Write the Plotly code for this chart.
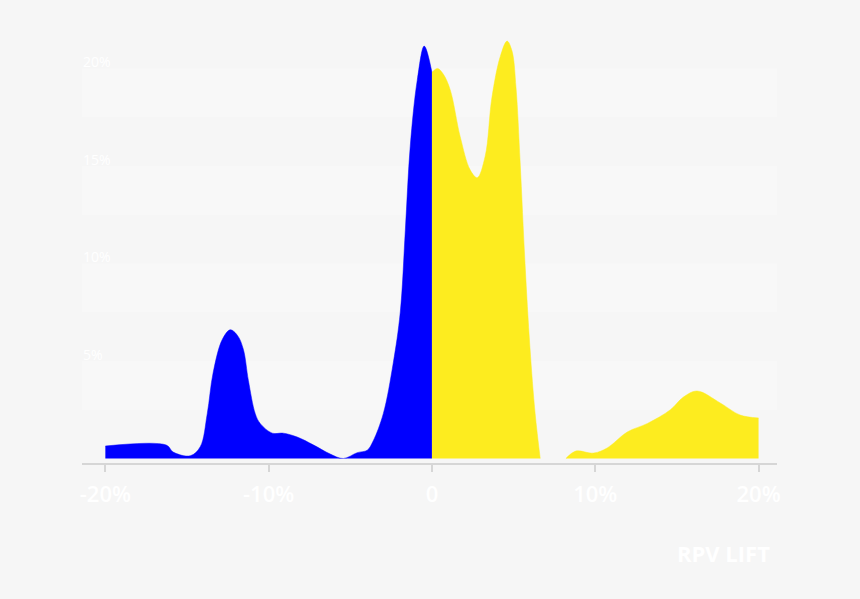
import plotly.graph_objects as go

# Blue density (negative lift), x in %, y in %
blue_x = [-20.0, -16.27, -15.84, -14.8, -14.19, -13.76, -13.4, -12.84, -12.35, -11.9, -11.55, -11.24,
          -10.82, -10.52, -9.78, -9.11, -8.25, -7.27, -6.23, -5.43, -4.58, -3.96, -3.6,
          -2.98, -2.37, -1.94, -1.63, -1.33, -0.9, -0.47, 0.0]
blue_y = [0.64, 0.69, 0.33, 0.14, 0.6, 2.3, 4.4, 6.1, 6.6, 6.3, 5.6, 4.0,
          2.3, 1.8, 1.3, 1.3, 1.1, 0.7, 0.23, 0.0, 0.3, 0.43, 0.9,
          2.3, 4.9, 7.5, 11.7, 16.0, 19.4, 21.15, 19.8]

# Yellow density (positive lift), main part
yellow_x = [0.0, 0.34, 0.7, 1.12, 1.73, 2.34, 2.77, 3.26, 3.67, 4.18, 4.6, 4.9, 5.15, 5.4, 5.7, 6.0, 6.32, 6.63]
yellow_y = [19.8, 20.0, 19.7, 18.9, 16.5, 14.8, 14.4, 15.5, 18.5, 20.6, 21.4, 20.9, 19.0, 15.2, 10.0, 5.7, 2.3, 0.0]

# Yellow density, tail part
yellow_tail_x = [8.2, 8.8, 9.9, 10.73, 11.96, 13.2, 14.6, 15.4, 16.24, 17.65, 18.87, 20.0]
yellow_tail_y = [0.0, 0.38, 0.28, 0.54, 1.36, 1.8, 2.5, 3.15, 3.46, 2.85, 2.23, 2.08]

x_tick_vals = [-20, -10, 0, 10, 20]
x_tick_text = ["-20%", "-10%", "0", "10%", "20%"]
y_tick_vals = [5, 10, 15, 20]
y_tick_text = ["5%", "10%", "15%", "20%"]
band_ranges = [(2.5, 5), (7.5, 10), (12.5, 15), (17.5, 20)]

BLUE = "#0000ff"
YELLOW = "#fdec1f"
FONT = "Open Sans"

fig = go.Figure()
fig.add_trace(go.Scatter(x=blue_x, y=blue_y, mode="lines", line=dict(color=BLUE, width=0.5, shape="spline", smoothing=1.0),
                         fill="tozeroy", fillcolor=BLUE, hoverinfo="skip"))
fig.add_trace(go.Scatter(x=yellow_x, y=yellow_y, mode="lines", line=dict(color=YELLOW, width=0.5, shape="spline", smoothing=1.0),
                         fill="tozeroy", fillcolor=YELLOW, hoverinfo="skip"))
fig.add_trace(go.Scatter(x=yellow_tail_x, y=yellow_tail_y, mode="lines", line=dict(color=YELLOW, width=0.5, shape="spline", smoothing=1.0),
                         fill="tozeroy", fillcolor=YELLOW, hoverinfo="skip"))

for lo, hi in band_ranges:
    fig.add_shape(type="rect", xref="paper", x0=0, x1=1, yref="y", y0=lo, y1=hi,
                  fillcolor="#f8f8f8", line=dict(width=0), layer="below")

# y tick labels placed inside the plot, just above each level
for v, t in zip(y_tick_vals, y_tick_text):
    fig.add_annotation(text=t, xref="paper", yref="y", x=0, y=v, xanchor="left", yanchor="bottom",
                       showarrow=False, borderpad=0, yshift=-4,
                       font=dict(family=FONT, size=14, color="white"))

fig.add_annotation(text="<b>RPV LIFT</b>", xref="paper", yref="paper", x=0.993, y=-0.207,
                   xanchor="right", yanchor="middle", showarrow=False,
                   font=dict(family=FONT, size=22, color="white"))

fig.update_layout(
    width=860, height=599,
    margin=dict(l=82, r=83, t=30, b=136),
    paper_bgcolor="#f6f6f6", plot_bgcolor="#f6f6f6",
    showlegend=False,
    xaxis=dict(range=[-21.43, 21.13], tickvals=x_tick_vals, ticktext=x_tick_text,
               showgrid=False, zeroline=False, showline=True, linecolor="#d6d6d6", linewidth=2,
               ticks="outside", ticklen=7, tickwidth=2, tickcolor="#d6d6d6",
               ticklabelstandoff=4,
               tickfont=dict(family=FONT, size=22, color="white", weight=600)),
    yaxis=dict(range=[-0.23, 21.97], showticklabels=False,
               showgrid=False, zeroline=False, showline=False, ticks=""),
)

fig.write_html("out.html", config={"displayModeBar": False},
               post_script="document.body.style.margin='0';document.body.style.background='#f6f6f6';")
